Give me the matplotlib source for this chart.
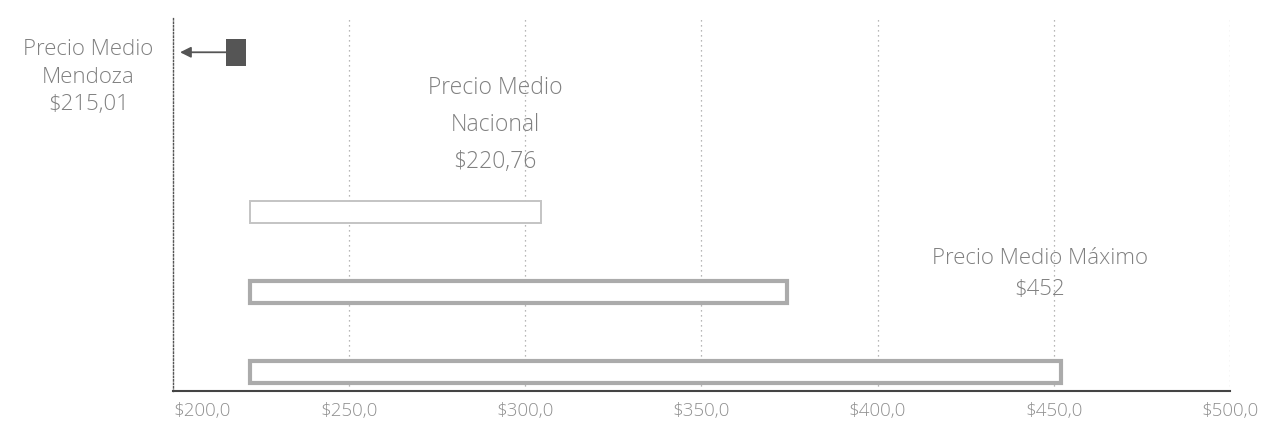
import numpy as np
import matplotlib.pyplot as plt
from matplotlib.ticker import FuncFormatter

# precios medios ($)
precio_mendoza = 215.01
precio_nacional = 220.76
precio_maximo = 452

# barras horizontales: inicio y fin de cada rango
bar_pos = [2, 1, 0]
bar_start = [221.8, 221.8, 221.8]
bar_end = [304.5, 374.3, 452.0]

ticks = [200, 250, 300, 350, 400, 450, 500]

plt.rcParams['font.family'] = ['Open Sans', 'DejaVu Sans']
txt_color = '#808080'


def pesos(v, dec=2):
    return ('$%.*f' % (dec, v)).replace('.', ',')


fig = plt.figure(figsize=(12.73, 4.28), dpi=100)
ax = fig.add_axes([0.1359, 0.0864, 0.9662 - 0.1359, 0.960 - 0.0864])

ax.set_xlim(200, 500)
ax.set_ylim(-0.24, 4.44)

# grilla vertical punteada
for t in ticks[1:]:
    ax.axvline(t, color='#a0a0a0', lw=0.9, ls=(0, (1, 3)), zorder=0)

widths = np.array(bar_end) - np.array(bar_start)
edge_cols = ['#c4c4c4', '#ababab', '#ababab']
edge_lw = [1.4, 3.0, 3.0]
for p, s, w, ec, lw in zip(bar_pos, bar_start, widths, edge_cols, edge_lw):
    ax.barh(p, w, left=s, height=0.27, facecolor='white', edgecolor=ec,
            linewidth=lw, zorder=2)

# marcador de Mendoza con flecha
ax.barh(4.0, precio_nacional - precio_mendoza, left=precio_mendoza, height=0.34,
        color='#555555', zorder=3)
ax.annotate('', xy=(202, 4.0), xytext=(precio_mendoza, 4.0),
            arrowprops=dict(arrowstyle='-|>', color='#555555', lw=1.3,
                            mutation_scale=16, shrinkA=0, shrinkB=0))

ax.text(-0.080, 3.69, 'Precio Medio\nMendoza\n' + pesos(precio_mendoza),
        transform=ax.get_yaxis_transform(), ha='center', va='center',
        fontsize=16, fontweight='light', color=txt_color, linespacing=1.42)
ax.text(291.4, 3.09, 'Precio Medio\nNacional\n' + pesos(precio_nacional),
        ha='center', va='center', fontsize=16.5, fontweight='light',
        color=txt_color, linespacing=1.72)
ax.text(446.1, 1.225, 'Precio Medio Máximo\n$%d' % precio_maximo,
        ha='center', va='center', fontsize=16, fontweight='light',
        color=txt_color, linespacing=1.6)

ax.set_xticks(ticks)
ax.xaxis.set_major_formatter(FuncFormatter(lambda v, _: pesos(v, 1)))
ax.tick_params(axis='x', length=0, pad=8, labelsize=13.5, labelcolor='#909090')
ax.set_yticks([])
lbls = ax.get_xticklabels()
for lb in lbls:
    lb.set_fontweight('light')
lbls[0].set_horizontalalignment('left')

for s in ['top', 'right']:
    ax.spines[s].set_visible(False)
ax.spines['left'].set_linestyle((0, (1, 1.5)))
ax.spines['left'].set_color('#555555')
ax.spines['left'].set_linewidth(1.0)
ax.spines['bottom'].set_color('#444444')
ax.spines['bottom'].set_linewidth(1.5)

fig.savefig('out.png', dpi=100)
